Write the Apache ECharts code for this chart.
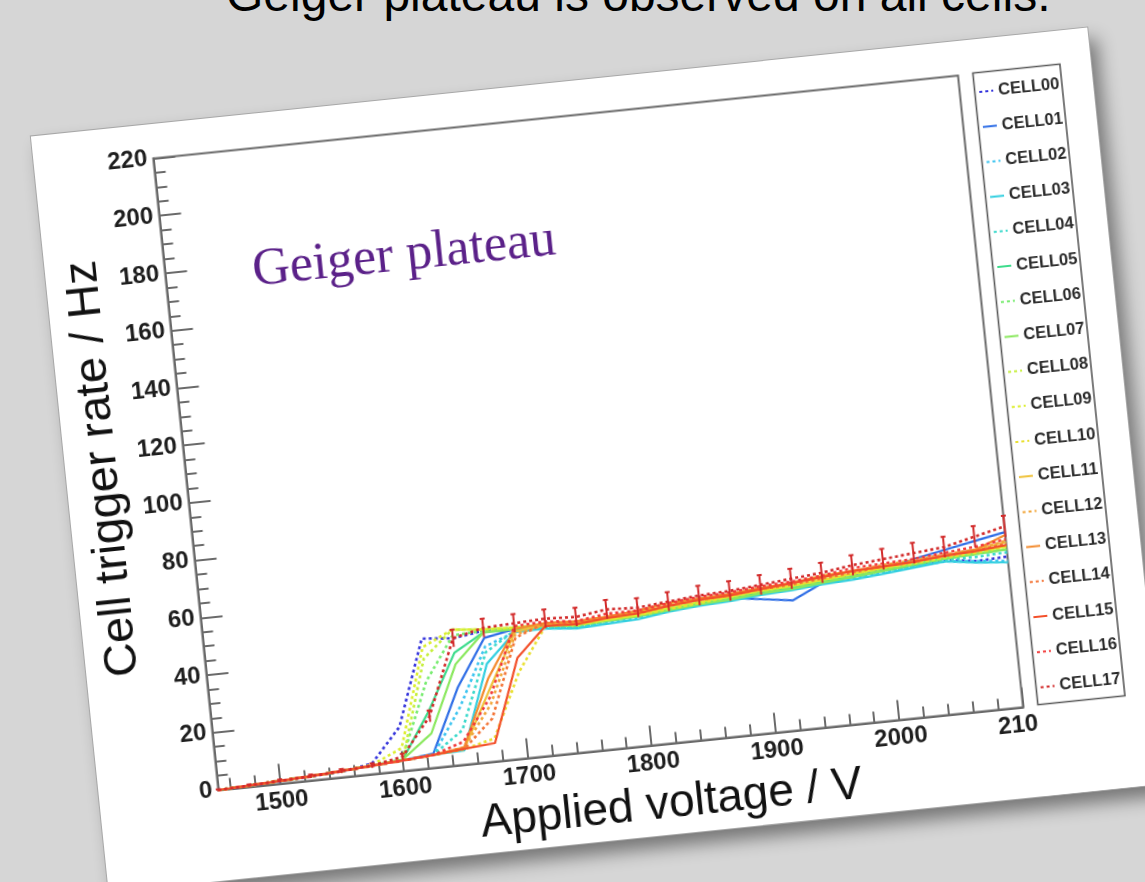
<!DOCTYPE html>
<html>
<head>
<meta charset="utf-8">
<script src="https://cdn.jsdelivr.net/npm/echarts@6/dist/echarts.min.js"></script>
<style>
  html, body { margin: 0; padding: 0; width: 1145px; height: 882px; overflow: hidden; background: #d6d6d6; }
  #slideTitle {
    position: absolute; left: 226px; top: -29px;
    font: 48px/48px "Liberation Sans", Arial, sans-serif; color: #000; white-space: nowrap;
  }
  #card {
    position: absolute; left: 67px; top: 80px; width: 1062px; height: 760px;
    background: #fff; transform: rotate(-5.88deg);
    box-shadow: 0 0 0 1px #a8a8a8, 8px 12px 18px rgba(0, 0, 0, 0.45);
  }
  #chart { width: 1062px; height: 760px; }
</style>
</head>
<body>
<div id="slideTitle">Geiger plateau is observed on all cells.</div>
<div id="card"><div id="chart"></div></div>
<script>
// applied voltage (V) for every measurement point
const volts = [1450, 1475, 1500, 1525, 1550, 1575, 1600, 1625, 1650, 1675, 1700, 1725, 1750, 1775,
  1800, 1825, 1850, 1875, 1900, 1925, 1950, 1975, 2000, 2025, 2050, 2075, 2100];

// trigger rate (Hz) per cell
const rate00 = [0, 0.4, 0.9, 1.4, 2.0, 3.7, 15.4, 45, 44, 45.5, 45, 45, 44, 45, 45.5, 46.5, 47.5, 48, 49, 49.5, 50.5, 51.5, 52.5, 53, 53.5, 52, 52.5];
const rate01 = [0, 0.5, 1.0, 1.5, 2.1, 3.0, 3.7, 5.0, 27, 43, 45, 45, 44, 45, 45, 46.5, 47.5, 48, 46.5, 45, 50, 51, 52.5, 55, 57, 59, 61];
const rate02 = [0, 0.5, 1.0, 1.5, 2.2, 3.0, 3.7, 4.6, 20, 40, 44, 44.5, 43.5, 44, 44.5, 46, 47, 47.5, 48.5, 49, 50, 50.5, 51.5, 52.5, 53, 52, 51];
const rate03 = [0, 0.5, 1.0, 1.5, 2.2, 3.0, 3.7, 4.5, 5.0, 34, 44, 44, 43, 43.5, 44, 45.5, 46.5, 47, 48, 48.5, 49.5, 50, 51, 52, 53, 51.5, 50.5];
const rate04 = [0, 0.5, 1.0, 1.5, 2.2, 3.0, 3.7, 4.6, 12, 38, 44.5, 44.5, 43.5, 44.5, 45, 46, 47, 47.5, 48.5, 49, 50, 51, 52, 52.5, 53.5, 53.5, 54];
const rate05 = [0, 0.5, 1.0, 1.5, 2.2, 3.0, 4.0, 20, 39, 45, 45, 45, 44, 45, 45.5, 46.5, 47.5, 48, 49, 49.5, 50.5, 51, 52, 53, 54, 54.5, 55];
const rate06 = [0, 0.5, 1.0, 1.5, 2.2, 3.0, 4.5, 30, 45, 45.5, 45, 45, 44, 45, 45.5, 46.5, 47.5, 48, 49, 50, 51, 51.5, 52.5, 53.5, 54, 54.5, 55];
const rate07 = [0, 0.5, 1.0, 1.5, 2.2, 3.0, 4.0, 12, 35, 45, 45, 45, 44, 44.5, 45, 46, 47, 47.5, 48.5, 49, 50, 51, 52, 53, 54, 54.5, 55];
const rate08 = [0, 0.5, 1.0, 1.5, 2.2, 3.0, 4.0, 38, 47, 46, 45.5, 45.5, 44, 45, 45.5, 46.5, 47.5, 48.5, 49.5, 50, 51, 52, 53, 53.5, 54.5, 55, 56];
const rate09 = [0, 0.5, 1.0, 1.5, 2.2, 3.2, 8.0, 42, 47, 46, 45.5, 45.5, 44.5, 45, 45.5, 47, 48, 48.5, 49.5, 50, 51, 52, 53, 54, 55, 55.5, 56];
const rate10 = [0, 0.5, 1.0, 1.5, 2.2, 3.0, 3.7, 4.5, 5.4, 8.0, 30, 45, 44.5, 45, 45.5, 46.5, 47.5, 48.5, 49.5, 50, 51, 52, 53, 53.5, 54.5, 55, 56];
const rate11 = [0, 0.5, 1.0, 1.5, 2.2, 3.0, 3.7, 4.5, 5.5, 25, 44, 45.5, 45, 46, 46.5, 47.5, 48.5, 49, 50, 51, 52.5, 53, 53.5, 54, 55, 56, 57.5];
const rate12 = [0, 0.5, 1.0, 1.5, 2.2, 3.0, 3.7, 4.5, 6.0, 20, 43, 45.5, 45, 46, 46, 47.5, 48.5, 49, 50, 51, 52, 53, 54, 54.5, 55.5, 56, 58];
const rate13 = [0, 0.5, 1.0, 1.5, 2.2, 3.0, 3.7, 4.5, 6.0, 29, 45, 46, 45.5, 46, 47, 48.5, 49, 49.5, 50.5, 51, 52, 53, 53.5, 54, 55, 56, 60];
const rate14 = [0, 0.5, 1.0, 1.5, 2.2, 3.0, 3.7, 4.5, 5.5, 15, 42, 46, 45, 46, 46.5, 48, 48.5, 49, 50, 50.5, 51.5, 52.5, 53.5, 54, 55, 55.5, 57];
const rate15 = [0, 0.5, 1.0, 1.5, 2.2, 3.0, 3.7, 4.5, 5.5, 6.4, 35, 45, 44.5, 45.5, 46, 47.5, 48.5, 49, 50, 51, 52, 53, 53.5, 54, 55, 55.5, 56.5];
const rate16 = [0, 0.5, 1.0, 1.5, 2.2, 3.0, 3.7, 4.5, 8.0, 22.5, 46, 46.5, 45.5, 47, 47, 48.5, 49.5, 50, 51, 51.5, 52.5, 54, 54.5, 55, 56, 57, 58.5];
const rate17 = [0, 0.5, 1.0, 1.5, 2.2, 3.0, 5.0, 18, 44, 46.5, 47, 47.5, 47, 48.5, 48, 49, 50, 50.5, 51.5, 52.5, 53.5, 55, 56, 57, 58, 60.5, 63];
// error on CELL17 (Hz)
const err17 = [0.3, 0.4, 0.5, 0.6, 0.7, 0.8, 1.0, 2.0, 3.0, 3.2, 3.2, 3.2, 3.2, 3.3, 3.3, 3.3, 3.4, 3.4, 3.4, 3.5, 3.5, 3.5, 3.6, 3.6, 3.6, 3.7, 3.7];

const cellNames = ['CELL00', 'CELL01', 'CELL02', 'CELL03', 'CELL04', 'CELL05', 'CELL06', 'CELL07', 'CELL08',
  'CELL09', 'CELL10', 'CELL11', 'CELL12', 'CELL13', 'CELL14', 'CELL15', 'CELL16', 'CELL17'];
const xMajorTicks = [1500, 1600, 1700, 1800, 1900, 2000, 2100];
const xMinorTicks = [1460, 1480, 1500, 1520, 1540, 1560, 1580, 1600, 1620, 1640, 1660, 1680, 1700, 1720, 1740,
  1760, 1780, 1800, 1820, 1840, 1860, 1880, 1900, 1920, 1940, 1960, 1980, 2000, 2020, 2040, 2060, 2080, 2100];

const rates = [rate00, rate01, rate02, rate03, rate04, rate05, rate06, rate07, rate08,
  rate09, rate10, rate11, rate12, rate13, rate14, rate15, rate16, rate17];
const colors = ['#3535dc', '#2f6ee6', '#3cc4f0', '#33cfe0', '#3bd9cc', '#3ddc8c', '#78ec70', '#8ae85e', '#c6ef3c',
  '#dcee2e', '#e9e030', '#efc23a', '#f1a63a', '#f38b2e', '#f37436', '#f3502a', '#f23b3b', '#d22a2a'];
const solid = [false, true, false, true, false, true, false, true, false,
  false, false, true, false, true, false, true, false, false];

const axisGrey = '#6a6a6a';
const font = '"Liberation Sans", Arial, sans-serif';

const chart = echarts.init(document.getElementById('chart'));

const series = cellNames.map((name, k) => ({
  name: name,
  type: 'line',
  xAxisIndex: 0,
  yAxisIndex: 0,
  symbol: 'none',
  data: volts.map((v, i) => [v, rates[k][i]]),
  lineStyle: { color: colors[k], width: solid[k] ? 2.2 : 2.6, type: solid[k] ? 'solid' : [3, 3] },
  itemStyle: { color: colors[k] },
  z: 2 + k
}));

// error bars of CELL17
series.push({
  name: 'CELL17 error',
  type: 'custom',
  xAxisIndex: 0,
  yAxisIndex: 0,
  z: 30,
  data: volts.map((v, i) => [v, rate17[i], err17[i]]),
  renderItem: function (params, api) {
    const x = api.value(0), y = api.value(1), e = api.value(2);
    const lo = api.coord([x, y - e]);
    const hi = api.coord([x, y + e]);
    const st = { stroke: colors[17], lineWidth: 2 };
    return {
      type: 'group',
      children: [
        { type: 'line', shape: { x1: lo[0], y1: lo[1], x2: hi[0], y2: hi[1] }, style: st },
        { type: 'line', shape: { x1: hi[0] - 2.5, y1: hi[1], x2: hi[0] + 2.5, y2: hi[1] }, style: st }
      ]
    };
  }
});

const option = {
  animation: false,
  grid: {
    left: 119.5, top: 34.5, width: 809, height: 635,
    show: true, borderColor: axisGrey, borderWidth: 2, backgroundColor: 'transparent',
    outerBoundsMode: 'none'
  },
  xAxis: [
    {
      type: 'value', min: 1450, max: 2100, position: 'bottom',
      name: 'Applied voltage / V', nameLocation: 'middle', nameGap: 38,
      nameTextStyle: { fontSize: 46, color: '#111', fontFamily: font, padding: [0, 0, 0, 90] },
      axisLine: { show: true, lineStyle: { color: axisGrey, width: 2 } },
      axisTick: { show: true, inside: true, length: 20, customValues: xMajorTicks, lineStyle: { color: axisGrey, width: 2 } },
      axisLabel: {
        customValues: xMajorTicks, margin: 6, fontSize: 24, fontWeight: 'bold', color: '#1e1e1e', fontFamily: font,
        formatter: (v) => String(v)
      },
      splitLine: { show: false }
    },
    {
      type: 'value', min: 1450, max: 2100, position: 'bottom',
      axisLine: { show: false },
      axisTick: { show: true, inside: true, length: 11, customValues: xMinorTicks, lineStyle: { color: axisGrey, width: 2 } },
      axisLabel: { show: false },
      splitLine: { show: false }
    }
  ],
  yAxis: [
    {
      type: 'value', min: 0, max: 220, interval: 20, position: 'left',
      name: 'Cell trigger rate / Hz', nameLocation: 'middle', nameGap: 58,
      nameTextStyle: { fontSize: 47, color: '#111', fontFamily: font, padding: [0, 0, 0, 28] },
      axisLine: { show: true, lineStyle: { color: axisGrey, width: 2 } },
      axisTick: { show: true, inside: true, length: 22, lineStyle: { color: axisGrey, width: 2 } },
      axisLabel: { margin: 6, fontSize: 24, fontWeight: 'bold', color: '#1e1e1e', fontFamily: font },
      splitLine: { show: false }
    },
    {
      type: 'value', min: 0, max: 220, interval: 5, position: 'left',
      axisLine: { show: false },
      axisTick: { show: true, inside: true, length: 11, lineStyle: { color: axisGrey, width: 2 } },
      axisLabel: { show: false },
      splitLine: { show: false }
    }
  ],
  legend: {
    data: cellNames,
    orient: 'vertical',
    left: 947, top: 44,
    padding: 0,
    itemWidth: 14, itemHeight: 12, itemGap: 17.2,
    itemStyle: { opacity: 0 },
    textStyle: { fontSize: 16.5, fontWeight: 'bold', color: '#2a2a2a', fontFamily: font, lineHeight: 18 },
    selectedMode: false
  },
  graphic: [
    {
      type: 'rect', z: 1,
      shape: { x: 943.5, y: 33.5, width: 87.5, height: 635 },
      style: { fill: '#fff', stroke: '#5a5a5a', lineWidth: 1.6 }
    },
    {
      // the pad edge cuts the last digit of the 2100 label
      type: 'rect', z: 100,
      shape: { x: 941, y: 672, width: 121, height: 88 },
      style: { fill: '#fff' }
    },
    {
      type: 'text', z: 50, x: 359, y: 157,
      style: {
        text: 'Geiger plateau', fill: '#5b2189',
        font: '52px "Liberation Serif", "Times New Roman", serif',
        textAlign: 'center', textVerticalAlign: 'middle'
      }
    }
  ],
  series: series
};

chart.setOption(option);
</script>
</body>
</html>
